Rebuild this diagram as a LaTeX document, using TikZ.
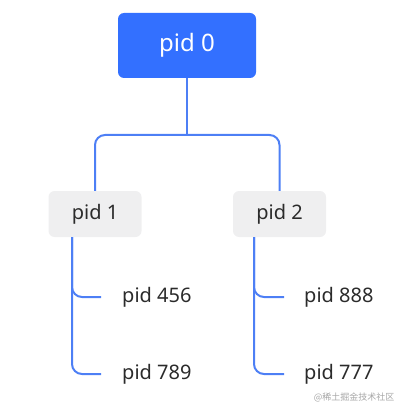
\documentclass[tikz,border=0pt]{standalone}
\usepackage{fontspec}
\setmainfont{Noto Sans}
\newfontfamily\cjk{Noto Sans CJK SC}
\usetikzlibrary{positioning}

\definecolor{feishublue}{HTML}{3370FF}
\definecolor{linkblue}{HTML}{4D7FF5}
\definecolor{boxgray}{HTML}{EFEFF0}
\definecolor{inkgray}{HTML}{2B2B2B}

\begin{document}
\begin{tikzpicture}[
    x=1pt, y=-1pt,
    root/.style={
        fill=feishublue,
        rounded corners=6pt,
        minimum width=138pt,
        minimum height=65pt,
        text=white,
        font=\fontsize{24}{28}\selectfont
    },
    mid/.style={
        fill=boxgray,
        rounded corners=6pt,
        minimum width=93pt,
        minimum height=46pt,
        text=inkgray,
        font=\fontsize{20}{24}\selectfont
    },
    leaf/.style={
        anchor=west,
        inner sep=0pt,
        text=inkgray,
        font=\fontsize{20}{24}\selectfont
    },
    link/.style={linkblue, line width=2pt, rounded corners=10pt}
]
    \useasboundingbox (0,0) rectangle (408,414);
    %% Root
    \node[root] (p0) at (187,45.5) {pid 0};
    %% Second level
    \node[mid] (p1) at (95,214) {pid 1};
    \node[mid] (p2) at (279.5,214) {pid 2};
    %% Leaves
    \node[leaf] (p456) at (122,297) {pid 456};
    \node[leaf] (p789) at (122,374) {pid 789};
    \node[leaf] (p888) at (304,297) {pid 888};
    \node[leaf] (p777) at (304,374) {pid 777};
    %% Fork point
    \coordinate (fork) at (p0.south |- 0,135);

    %% Lines
    \draw[link] (p0.south) -- (fork);
    \draw[link] (p1.north) |- (fork) -| (p2.north);
    \draw[link] ([xshift=-23pt]p1.south) |- ([xshift=-21pt]p456.west);
    \draw[link] ([xshift=-23pt]p1.south) |- ([xshift=-21pt]p789.west);
    \draw[link] ([xshift=-25.5pt]p2.south) |- ([xshift=-20pt]p888.west);
    \draw[link] ([xshift=-25.5pt]p2.south) |- ([xshift=-20pt]p777.west);

    %% Watermark
    \node[anchor=east, text=gray!70, font=\cjk\fontsize{9}{11}\selectfont] (mark) at (398,397) {@稀土掘金技术社区};
\end{tikzpicture}
\end{document}
